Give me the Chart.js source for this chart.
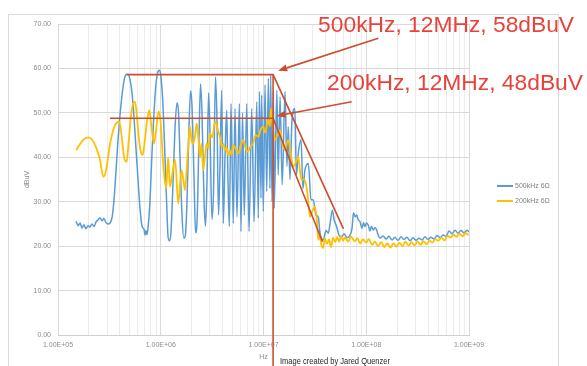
<!DOCTYPE html>
<html><head><meta charset="utf-8">
<script src="https://cdn.jsdelivr.net/npm/chart.js@4/dist/chart.umd.min.js"></script>
<style>html,body{margin:0;padding:0;background:#fff;}canvas{display:block;}</style>
</head><body>
<canvas id="c" width="587" height="366"></canvas>
<script>
const seriesLabels = ['500kHz 6Ω', '200kHz 6Ω'];
const seriesColors = ['#5B9BD5', '#FFC000'];

// [frequency Hz, dBuV]
const blue500k = [
 [1.50e5,25.6],[1.57e5,24.6],[1.64e5,25.2],[1.71e5,24.1],[1.79e5,24.8],[1.87e5,23.9],[1.96e5,24.6],[2.05e5,24.3],
 [2.14e5,25.0],[2.24e5,24.4],[2.34e5,25.4],[2.45e5,25.9],[2.56e5,26.4],[2.68e5,25.7],[2.80e5,26.2],[2.93e5,25.3],
 [3.07e5,25.0],[3.21e5,25.2],[3.36e5,26.5],[3.51e5,30.5],[3.67e5,37],[3.84e5,44],[4.01e5,49.5],[4.20e5,54],
 [4.39e5,57.2],[4.59e5,58.6],[4.80e5,58.7],[5.02e5,57.5],[5.25e5,54.5],[5.49e5,49],[5.74e5,42],[6.01e5,35],
 [6.28e5,28.5],[6.57e5,24.5],[6.87e5,23.8],[7.03e5,22.5],[7.18e5,23.5],[7.34e5,22.6],[7.51e5,24],[7.85e5,30],
 [8.22e5,41],[8.59e5,50],[8.99e5,56.5],[9.40e5,59.3],[9.73e5,59.6],[1.00e6,58.5],[1.05e6,52],[1.10e6,40],
 [1.14e6,30],[1.18e6,22],[1.22e6,21.2],[1.26e6,23.5],[1.32e6,35],[1.38e6,47],[1.44e6,52.3],[1.49e6,50],
 [1.54e6,40],[1.61e6,27],[1.68e6,21.8],[1.74e6,22.6],[1.80e6,30],[1.88e6,46],[1.95e6,55],[2.01e6,52],
 [2.11e6,35],[2.18e6,23],[2.25e6,25],[2.36e6,45],[2.44e6,56.5],[2.52e6,50],[2.64e6,30],[2.73e6,24.5],
 [2.82e6,35],[2.92e6,54.5],[3.02e6,45],[3.15e6,26],[3.26e6,32],[3.41e6,58.1],[3.53e6,48],[3.65e6,27],
 [3.77e6,38],[3.92e6,55.1],[4.06e6,25.1],[4.22e6,40],[4.38e6,50.6],[4.51e6,35],[4.65e6,24.4],[4.83e6,52.1],
 [5.08e6,25.1],[5.28e6,51.0],[5.52e6,26.6],[5.82e6,52.1],[6.04e6,23.3],[6.25e6,50],[6.50e6,27],[6.87e6,52.1],
 [7.23e6,23.3],[7.68e6,51],[8.09e6,25.5],[8.60e6,52.5],[8.90e6,26.3],[9.14e6,54.8],[9.46e6,30.8],[9.60e6,54],
 [9.96e6,27.8],[1.035e7,56.3],[1.075e7,32.3],[1.115e7,57.8],[1.156e7,33],[1.175e7,58.5],[1.21e7,30],[1.248e7,54.8],
 [1.27e7,28.5],[1.35e7,55.1],[1.39e7,36],[1.45e7,53.6],[1.52e7,33.8],[1.62e7,54.8],[1.69e7,38],[1.74e7,46.9],
 [1.81e7,35],[1.89e7,48],[2.02e7,51],[2.09e7,36],[2.18e7,40.9],[2.32e7,44],[2.42e7,33],[2.53e7,37.1],
 [2.73e7,38.6],[2.90e7,30.5],[3.05e7,30.4],[3.24e7,27],[3.41e7,26.6],[3.55e7,23],[3.82e7,21.4],[4.06e7,23.5],
 [4.28e7,22.9],[4.44e7,25],[4.68e7,28.1],[4.86e7,26],[5.15e7,24.4],[5.43e7,22.5],[5.77e7,22.1],[6.07e7,22.8],
 [6.50e7,21.9],[6.95e7,22.5],[7.27e7,24],[7.51e7,27.5],[7.79e7,26.6],[8.08e7,27],[8.32e7,26],[8.70e7,25.5],
 [9.10e7,24],[9.40e7,25.3],[9.72e7,24.4],[1.005e8,25.2],[1.047e8,24.7],[1.087e8,23.4],[1.125e8,24.5],[1.171e8,23.6],
 [1.216e8,24.2],[1.264e8,23.6],[1.30e8,22.6],[1.36e8,21.8],[1.46e8,22.3],[1.56e8,21.6],[1.66e8,22.2],[1.78e8,21.4],
 [1.90e8,22.0],[2.04e8,21.3],[2.18e8,22.1],[2.33e8,21.5],[2.49e8,22.0],[2.67e8,21.2],[2.85e8,21.9],[3.05e8,21.3],
 [3.26e8,21.8],[3.49e8,21.4],[3.73e8,22.1],[3.99e8,21.5],[4.27e8,22.0],[4.56e8,21.6],[4.88e8,22.4],[5.22e8,21.9],
 [5.58e8,22.5],[5.97e8,22.2],[6.39e8,23.4],[6.84e8,22.8],[7.31e8,23.6],[7.82e8,22.9],[8.36e8,23.5],[8.94e8,23.0],
 [9.57e8,23.6],[1.0e9,23.2]
];
const yellow200k = [
 [1.50e5,41.6],[1.64e5,43],[1.79e5,44.1],[1.97e5,44.5],[2.14e5,44],[2.34e5,42.3],[2.56e5,39.5],[2.76e5,35.6],
 [2.93e5,37],[3.07e5,40],[3.21e5,43],[3.43e5,46],[3.67e5,47.6],[3.95e5,48.0],[4.10e5,46],[4.29e5,42],
 [4.44e5,39.5],[4.66e5,39.0],[4.85e5,43],[5.12e5,49],[5.36e5,52],[5.61e5,52.5],[5.87e5,49],[6.14e5,44],
 [6.43e5,41],[6.67e5,40.5],[6.94e5,43],[7.34e5,48],[7.74e5,50.6],[8.12e5,47],[8.59e5,43.1],[8.99e5,46],
 [9.55e5,50.3],[9.96e5,48],[1.06e6,38],[1.13e6,33],[1.18e6,40],[1.23e6,33.4],[1.29e6,36],[1.38e6,39.4],
 [1.48e6,29.6],[1.59e6,37.1],[1.66e6,35],[1.72e6,32.6],[1.82e6,40],[1.92e6,46.9],[1.99e6,44],[2.07e6,43.1],
 [2.16e6,45],[2.24e6,47.6],[2.33e6,44],[2.41e6,40],[2.49e6,43],[2.59e6,37.1],[2.69e6,40],[2.80e6,43.1],
 [2.91e6,42],[3.01e6,45.4],[3.18e6,44.5],[3.37e6,48],[3.49e6,47.5],[3.63e6,45.8],[3.77e6,44.5],[3.92e6,42.4],
 [4.08e6,43],[4.22e6,41.6],[4.36e6,42.3],[4.53e6,40.5],[4.71e6,41.5],[4.88e6,40.5],[5.08e6,42.8],[5.35e6,42],
 [5.70e6,40.9],[5.98e6,42.5],[6.39e6,43.9],[6.67e6,42],[7.07e6,41.3],[7.47e6,42.5],[7.95e6,43.1],[8.35e6,45],
 [8.95e6,44.6],[9.30e6,46],[9.96e6,46.9],[1.04e7,45.5],[1.11e7,48.4],[1.156e7,47],[1.18e7,51],[1.24e7,46],
 [1.29e7,43.9],[1.37e7,45],[1.45e7,46.1],[1.53e7,43],[1.62e7,41.6],[1.68e7,43],[1.74e7,43.9],[1.86e7,40],
 [1.95e7,37.9],[2.08e7,39],[2.18e7,40.1],[2.26e7,37],[2.35e7,34.9],[2.48e7,35],[2.62e7,33.4],[2.73e7,30],
 [2.83e7,26.6],[3.00e7,28],[3.17e7,28.9],[3.33e7,25],[3.41e7,21.4],[3.55e7,22.5],[3.65e7,20.3],[3.81e7,19.6],
 [3.95e7,21.8],[4.15e7,20.5],[4.34e7,21.5],[4.55e7,19.8],[4.75e7,21.9],[5.00e7,20.9],[5.20e7,22.1],[5.45e7,21.0],
 [5.70e7,22.3],[5.95e7,21.2],[6.2e7,21.9],[6.7e7,21.0],[7.1e7,22.2],[7.7e7,21.1],[8.2e7,21.8],[8.7e7,20.6],
 [9.3e7,21.5],[1.0e8,20.8],[1.06e8,21.6],[1.14e8,20.3],[1.22e8,21.0],[1.30e8,20.0],[1.40e8,20.9],[1.50e8,19.8],
 [1.60e8,20.6],[1.72e8,19.7],[1.84e8,20.6],[1.97e8,19.9],[2.1e8,20.8],[2.25e8,20.0],[2.4e8,21.0],[2.6e8,20.1],
 [2.75e8,20.9],[2.95e8,20.2],[3.15e8,21.0],[3.38e8,20.3],[3.6e8,21.1],[3.86e8,20.4],[4.12e8,21.3],[4.4e8,20.8],
 [4.7e8,21.6],[5.0e8,21.2],[5.4e8,21.9],[5.77e8,21.3],[6.2e8,22.3],[6.6e8,21.9],[7.05e8,22.6],[7.55e8,22.1],
 [8.1e8,22.8],[8.65e8,22.2],[9.2e8,22.9],[9.9e8,22.5]
];

const xMajorTicks = [1e5, 1e6, 1e7, 1e8, 1e9];
const xTickLabels = ['1.00E+05', '1.00E+06', '1.00E+07', '1.00E+08', '1.00E+09'];
const yTickLabels = ['0.00','10.00','20.00','30.00','40.00','50.00','60.00','70.00'];
const xTitle = 'Hz';
const yTitle = 'dBuV';
const creditText = 'Image created by Jared Quenzer';

// annotations, in data units [Hz, dBuV]
const annotTexts = ['500kHz, 12MHz, 58dBuV', '200kHz, 12MHz, 48dBuV'];
const annotTextAt = [[3.4e7, 69.8], [4.15e7, 56.7]];
const bracket500 = [[4.65e5, 58.6], [1.24e7, 58.6], [6.0e7, 23.9]];
const bracket200 = [[3.2e5, 48.8], [1.24e7, 48.8], [3.75e7, 21.0]];
const markerLine = [[1.24e7, 58.6], [1.24e7, -7]];
const arrowLines = [[[1.31e8, 66.8], [1.39e7, 59.5]], [[7.21e7, 52.5], [1.34e7, 49.3]]];

// full list of log gridline positions (1..9 x each decade)
const xAllTicks = [];
xMajorTicks.forEach((m, i) => {
  if (i === xMajorTicks.length - 1) { xAllTicks.push(m); return; }
  for (let k = 1; k <= 9; k++) xAllTicks.push(m * k);
});

const toXY = arr => arr.map(p => ({x: p[0], y: p[1]}));

const decor = {
  id: 'decor',
  beforeDraw(chart) {
    const ctx = chart.ctx;
    ctx.save();
    ctx.fillStyle = '#ffffff';
    ctx.fillRect(0, 0, chart.width, chart.height);
    ctx.strokeStyle = '#d9d9d9';
    ctx.lineWidth = 1;
    ctx.strokeRect(8.5, 14.5, 550, 400);
    ctx.restore();
  },
  afterDraw(chart) {
    const ctx = chart.ctx, xs = chart.scales.x, ys = chart.scales.y, ca = chart.chartArea;
    const P = p => [xs.getPixelForValue(p[0]), ys.getPixelForValue(p[1])];
    ctx.save();
    // axis titles
    ctx.fillStyle = '#8c8c8c';
    ctx.font = '7px "Liberation Sans", Arial, sans-serif';
    ctx.textAlign = 'center'; ctx.textBaseline = 'middle';
    ctx.fillText(xTitle, (ca.left + ca.right) / 2, 357.5);
    ctx.save();
    ctx.translate(27, (ca.top + ca.bottom) / 2);
    ctx.rotate(-Math.PI / 2);
    ctx.fillText(yTitle, 0, 0);
    ctx.restore();
    // legend
    ctx.textAlign = 'left';
    ctx.fillStyle = '#7f7f7f';
    chart.data.datasets.forEach((ds, i) => {
      const y = 186 + i * 15;
      ctx.strokeStyle = ds.borderColor; ctx.lineWidth = 2;
      ctx.beginPath(); ctx.moveTo(ca.right + 28, y); ctx.lineTo(ca.right + 44, y); ctx.stroke();
      ctx.fillText(ds.label, ca.right + 46, y + 0.5);
    });
    // credit
    ctx.fillStyle = '#262626';
    ctx.font = '8.5px "Liberation Sans", Arial, sans-serif';
    const cw = ctx.measureText(creditText).width;
    ctx.save();
    ctx.translate(280, 361.5);
    ctx.scale(110 / cw, 1);
    ctx.fillText(creditText, 0, 0);
    ctx.restore();
    // red annotation lines
    ctx.strokeStyle = '#CB4E2E';
    ctx.fillStyle = '#CB4E2E';
    ctx.lineWidth = 1.6;
    [bracket500, bracket200, markerLine].forEach(poly => {
      ctx.beginPath();
      poly.forEach((p, i) => { const q = P(p); if (i) ctx.lineTo(q[0], q[1]); else ctx.moveTo(q[0], q[1]); });
      ctx.stroke();
    });
    arrowLines.forEach(a => {
      const s = P(a[0]), t = P(a[1]);
      const ang = Math.atan2(t[1] - s[1], t[0] - s[0]);
      const hl = 9, hw = 3.6;
      const bx = t[0] - hl * Math.cos(ang), by = t[1] - hl * Math.sin(ang);
      ctx.beginPath(); ctx.moveTo(s[0], s[1]); ctx.lineTo(bx, by); ctx.stroke();
      ctx.beginPath();
      ctx.moveTo(t[0], t[1]);
      ctx.lineTo(bx + hw * Math.sin(ang), by - hw * Math.cos(ang));
      ctx.lineTo(bx - hw * Math.sin(ang), by + hw * Math.cos(ang));
      ctx.closePath(); ctx.fill();
    });
    // red annotation texts
    ctx.fillStyle = '#E8433A';
    ctx.font = '22.8px "Liberation Sans", Arial, sans-serif';
    ctx.textAlign = 'left'; ctx.textBaseline = 'middle';
    annotTexts.forEach((t, i) => {
      const q = P(annotTextAt[i]);
      ctx.fillText(t, q[0], q[1] + 1);
    });
    ctx.restore();
  }
};

new Chart(document.getElementById('c'), {
  type: 'line',
  data: {
    datasets: [
      { label: seriesLabels[0], data: toXY(blue500k), borderColor: seriesColors[0], borderWidth: 1.5,
        pointRadius: 0, fill: false, cubicInterpolationMode: 'monotone', order: 1 },
      { label: seriesLabels[1], data: toXY(yellow200k), borderColor: seriesColors[1], borderWidth: 1.8,
        pointRadius: 0, fill: false, cubicInterpolationMode: 'monotone', order: 0 }
    ]
  },
  options: {
    responsive: false,
    animation: false,
    devicePixelRatio: 1,
    layout: { padding: { left: 8, top: 24, right: 118, bottom: 0 } },
    plugins: { legend: { display: false }, tooltip: { enabled: false } },
    scales: {
      x: {
        type: 'logarithmic', min: 1e5, max: 1e9,
        afterBuildTicks: s => { s.ticks = xAllTicks.map(v => ({ value: v })); },
        afterFit: s => { s.height = 31; },
        grid: { color: c => (c.tick && xMajorTicks.includes(c.tick.value)) ? '#d9d9d9' : '#ececec', drawTicks: false, lineWidth: 1 },
        border: { color: '#d0d0d0' },
        ticks: {
          autoSkip: false, maxRotation: 0, minRotation: 0, padding: 6,
          color: '#8c8c8c', font: { family: '"Liberation Sans", Arial, sans-serif', size: 7 },
          callback: v => { const i = xMajorTicks.indexOf(v); return i >= 0 ? xTickLabels[i] : ''; }
        }
      },
      y: {
        min: 0, max: 70,
        afterFit: s => { s.width = 50; },
        grid: { color: '#d9d9d9', drawTicks: false },
        border: { display: false },
        ticks: {
          stepSize: 10, padding: 7,
          color: '#8c8c8c', font: { family: '"Liberation Sans", Arial, sans-serif', size: 7 },
          callback: v => yTickLabels[Math.round(v / 10)]
        }
      }
    }
  },
  plugins: [decor]
});
</script>
</body></html>
